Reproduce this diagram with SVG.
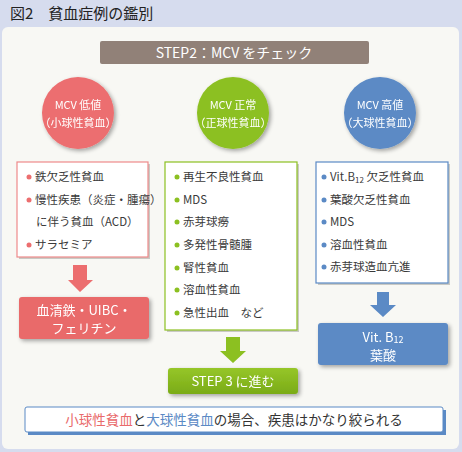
<svg xmlns="http://www.w3.org/2000/svg" width="462" height="452" viewBox="0 0 462 452">
<defs>
<style>
text{font-family:"Noto Sans CJK JP","Noto Sans",sans-serif;}
.w{fill:#fff;font-size:11px;}
.li{fill:#3a3a3a;font-size:11.5px;}
.lb{fill:#fff;stroke-width:1.2;}
.sh{fill:#c9c9c4;}
</style>
<filter id="ds" x="-20%" y="-20%" width="150%" height="150%">
<feGaussianBlur in="SourceAlpha" stdDeviation="2"/>
<feOffset dx="2" dy="2"/>
<feComponentTransfer><feFuncA type="linear" slope="0.35"/></feComponentTransfer>
<feMerge><feMergeNode/><feMergeNode in="SourceGraphic"/></feMerge>
</filter>
<linearGradient id="gg" x1="0" y1="0" x2="0" y2="1"><stop offset="0" stop-color="#96c629"/><stop offset="1" stop-color="#7aab17"/></linearGradient>
</defs>
<rect x="0" y="0" width="462" height="452" fill="#d6dcee"/>
<rect x="2" y="27" width="457" height="422" rx="6" fill="#f8f8f4"/>
<text x="10" y="19" style="font-size:15px;fill:#222;">図2　貧血症例の鑑別</text>

<g id="step2">
<rect x="100" y="41" width="269" height="23" rx="2" fill="#918178"/>
<text x="234" y="58" text-anchor="middle" style="font-size:14px;fill:#fff;">STEP2：MCV をチェック</text>
</g>

<g id="c-low" filter="url(#ds)">
<circle cx="78" cy="113" r="36" fill="#ec6e6f"/>
<text x="78" y="109" text-anchor="middle" class="w">MCV 低値</text>
<text x="78" y="127" text-anchor="middle" class="w">（小球性貧血）</text>
</g>
<g id="c-norm" filter="url(#ds)">
<circle cx="233" cy="113" r="36" fill="#8cc021"/>
<text x="233" y="109" text-anchor="middle" class="w">MCV 正常</text>
<text x="233" y="127" text-anchor="middle" class="w">（正球性貧血）</text>
</g>
<g id="c-high" filter="url(#ds)">
<circle cx="380" cy="113" r="36" fill="#5b8ac5"/>
<text x="380" y="109" text-anchor="middle" class="w">MCV 高値</text>
<text x="380" y="127" text-anchor="middle" class="w">（大球性貧血）</text>
</g>

<g id="list-low">
<rect x="19" y="164" width="131" height="95" class="sh"/>
<rect x="17" y="162" width="131" height="95" class="lb" stroke="#ee8a8a"/>
<g fill="#ec6e6f"><circle cx="29" cy="177" r="2.5"/><circle cx="29" cy="200" r="2.5"/><circle cx="29" cy="245" r="2.5"/></g>
<text x="35" y="181" class="li">鉄欠乏性貧血</text>
<text x="35" y="204" class="li">慢性疾患（炎症・腫瘍）</text>
<text x="36" y="226" class="li">に伴う貧血（ACD）</text>
<text x="35" y="249" class="li">サラセミア</text>
</g>

<g id="list-norm">
<rect x="167" y="164" width="132" height="168" class="sh"/>
<rect x="165" y="162" width="132" height="168" class="lb" stroke="#8cc021"/>
<g fill="#8cc021"><circle cx="177" cy="177" r="2.5"/><circle cx="177" cy="200" r="2.5"/><circle cx="177" cy="222" r="2.5"/><circle cx="177" cy="245" r="2.5"/><circle cx="177" cy="268" r="2.5"/><circle cx="177" cy="290" r="2.5"/><circle cx="177" cy="313" r="2.5"/></g>
<text x="183" y="181" class="li">再生不良性貧血</text>
<text x="183" y="204" class="li">MDS</text>
<text x="183" y="226" class="li">赤芽球癆</text>
<text x="183" y="249" class="li">多発性骨髄腫</text>
<text x="183" y="272" class="li">腎性貧血</text>
<text x="183" y="294" class="li">溶血性貧血</text>
<text x="183" y="317" class="li">急性出血　など</text>
</g>

<g id="list-high">
<rect x="318" y="164" width="132" height="121" class="sh"/>
<rect x="316" y="162" width="132" height="121" class="lb" stroke="#5b8ac5"/>
<g fill="#5b8ac5"><circle cx="324" cy="177" r="2.5"/><circle cx="324" cy="200" r="2.5"/><circle cx="324" cy="222" r="2.5"/><circle cx="324" cy="245" r="2.5"/><circle cx="324" cy="267" r="2.5"/></g>
<text x="330" y="181" class="li">Vit.B<tspan font-size="8" dy="2">12</tspan><tspan dy="-2"> 欠乏性貧血</tspan></text>
<text x="330" y="204" class="li">葉酸欠乏性貧血</text>
<text x="330" y="226" class="li">MDS</text>
<text x="330" y="249" class="li">溶血性貧血</text>
<text x="330" y="271" class="li">赤芽球造血亢進</text>
</g>

<g id="connectors">
<polygon points="73,265 87,265 87,280 93,280 80,292 68,280 73,280" fill="#ec6e6f"/>
<polygon points="226,337 240,337 240,351 246,351 233,363 220,351 226,351" fill="#8cc021"/>
<polygon points="377,292 389,292 389,305 396,305 383,317 370,305 377,305" fill="#5b8ac5"/>
</g>

<g id="res-low" filter="url(#ds)">
<rect x="19" y="297" width="130" height="42" rx="3" fill="#e96a6b"/>
<text x="84" y="315" text-anchor="middle" style="font-size:13px;fill:#fff;">血清鉄・UIBC・</text>
<text x="84" y="333" text-anchor="middle" style="font-size:13px;fill:#fff;">フェリチン</text>
</g>

<g id="step3" filter="url(#ds)">
<rect x="168" y="368" width="130" height="26" rx="3" fill="url(#gg)"/>
<text x="233" y="386" text-anchor="middle" style="font-size:13px;fill:#fff;">STEP 3 に進む</text>
</g>

<g id="res-high" filter="url(#ds)">
<rect x="318" y="323" width="130" height="42" rx="3" fill="#5b8ac5"/>
<text x="383" y="342" text-anchor="middle" style="font-size:13px;fill:#fff;">Vit. B<tspan font-size="9" dy="1">12</tspan></text>
<text x="383" y="360" text-anchor="middle" style="font-size:13px;fill:#fff;">葉酸</text>
</g>

<g id="summary">
<rect x="28" y="410" width="418" height="25" fill="#5b8ac5"/>
<rect x="25" y="407" width="418" height="25" rx="2" fill="#fff" stroke="#5b8ac5" stroke-width="1"/>
<text x="234" y="424.5" text-anchor="middle" style="font-size:13.5px;fill:#333;"><tspan fill="#e96a6b">小球性貧血</tspan>と<tspan fill="#5b8ac5">大球性貧血</tspan>の場合、疾患はかなり絞られる</text>
</g>
</svg>
